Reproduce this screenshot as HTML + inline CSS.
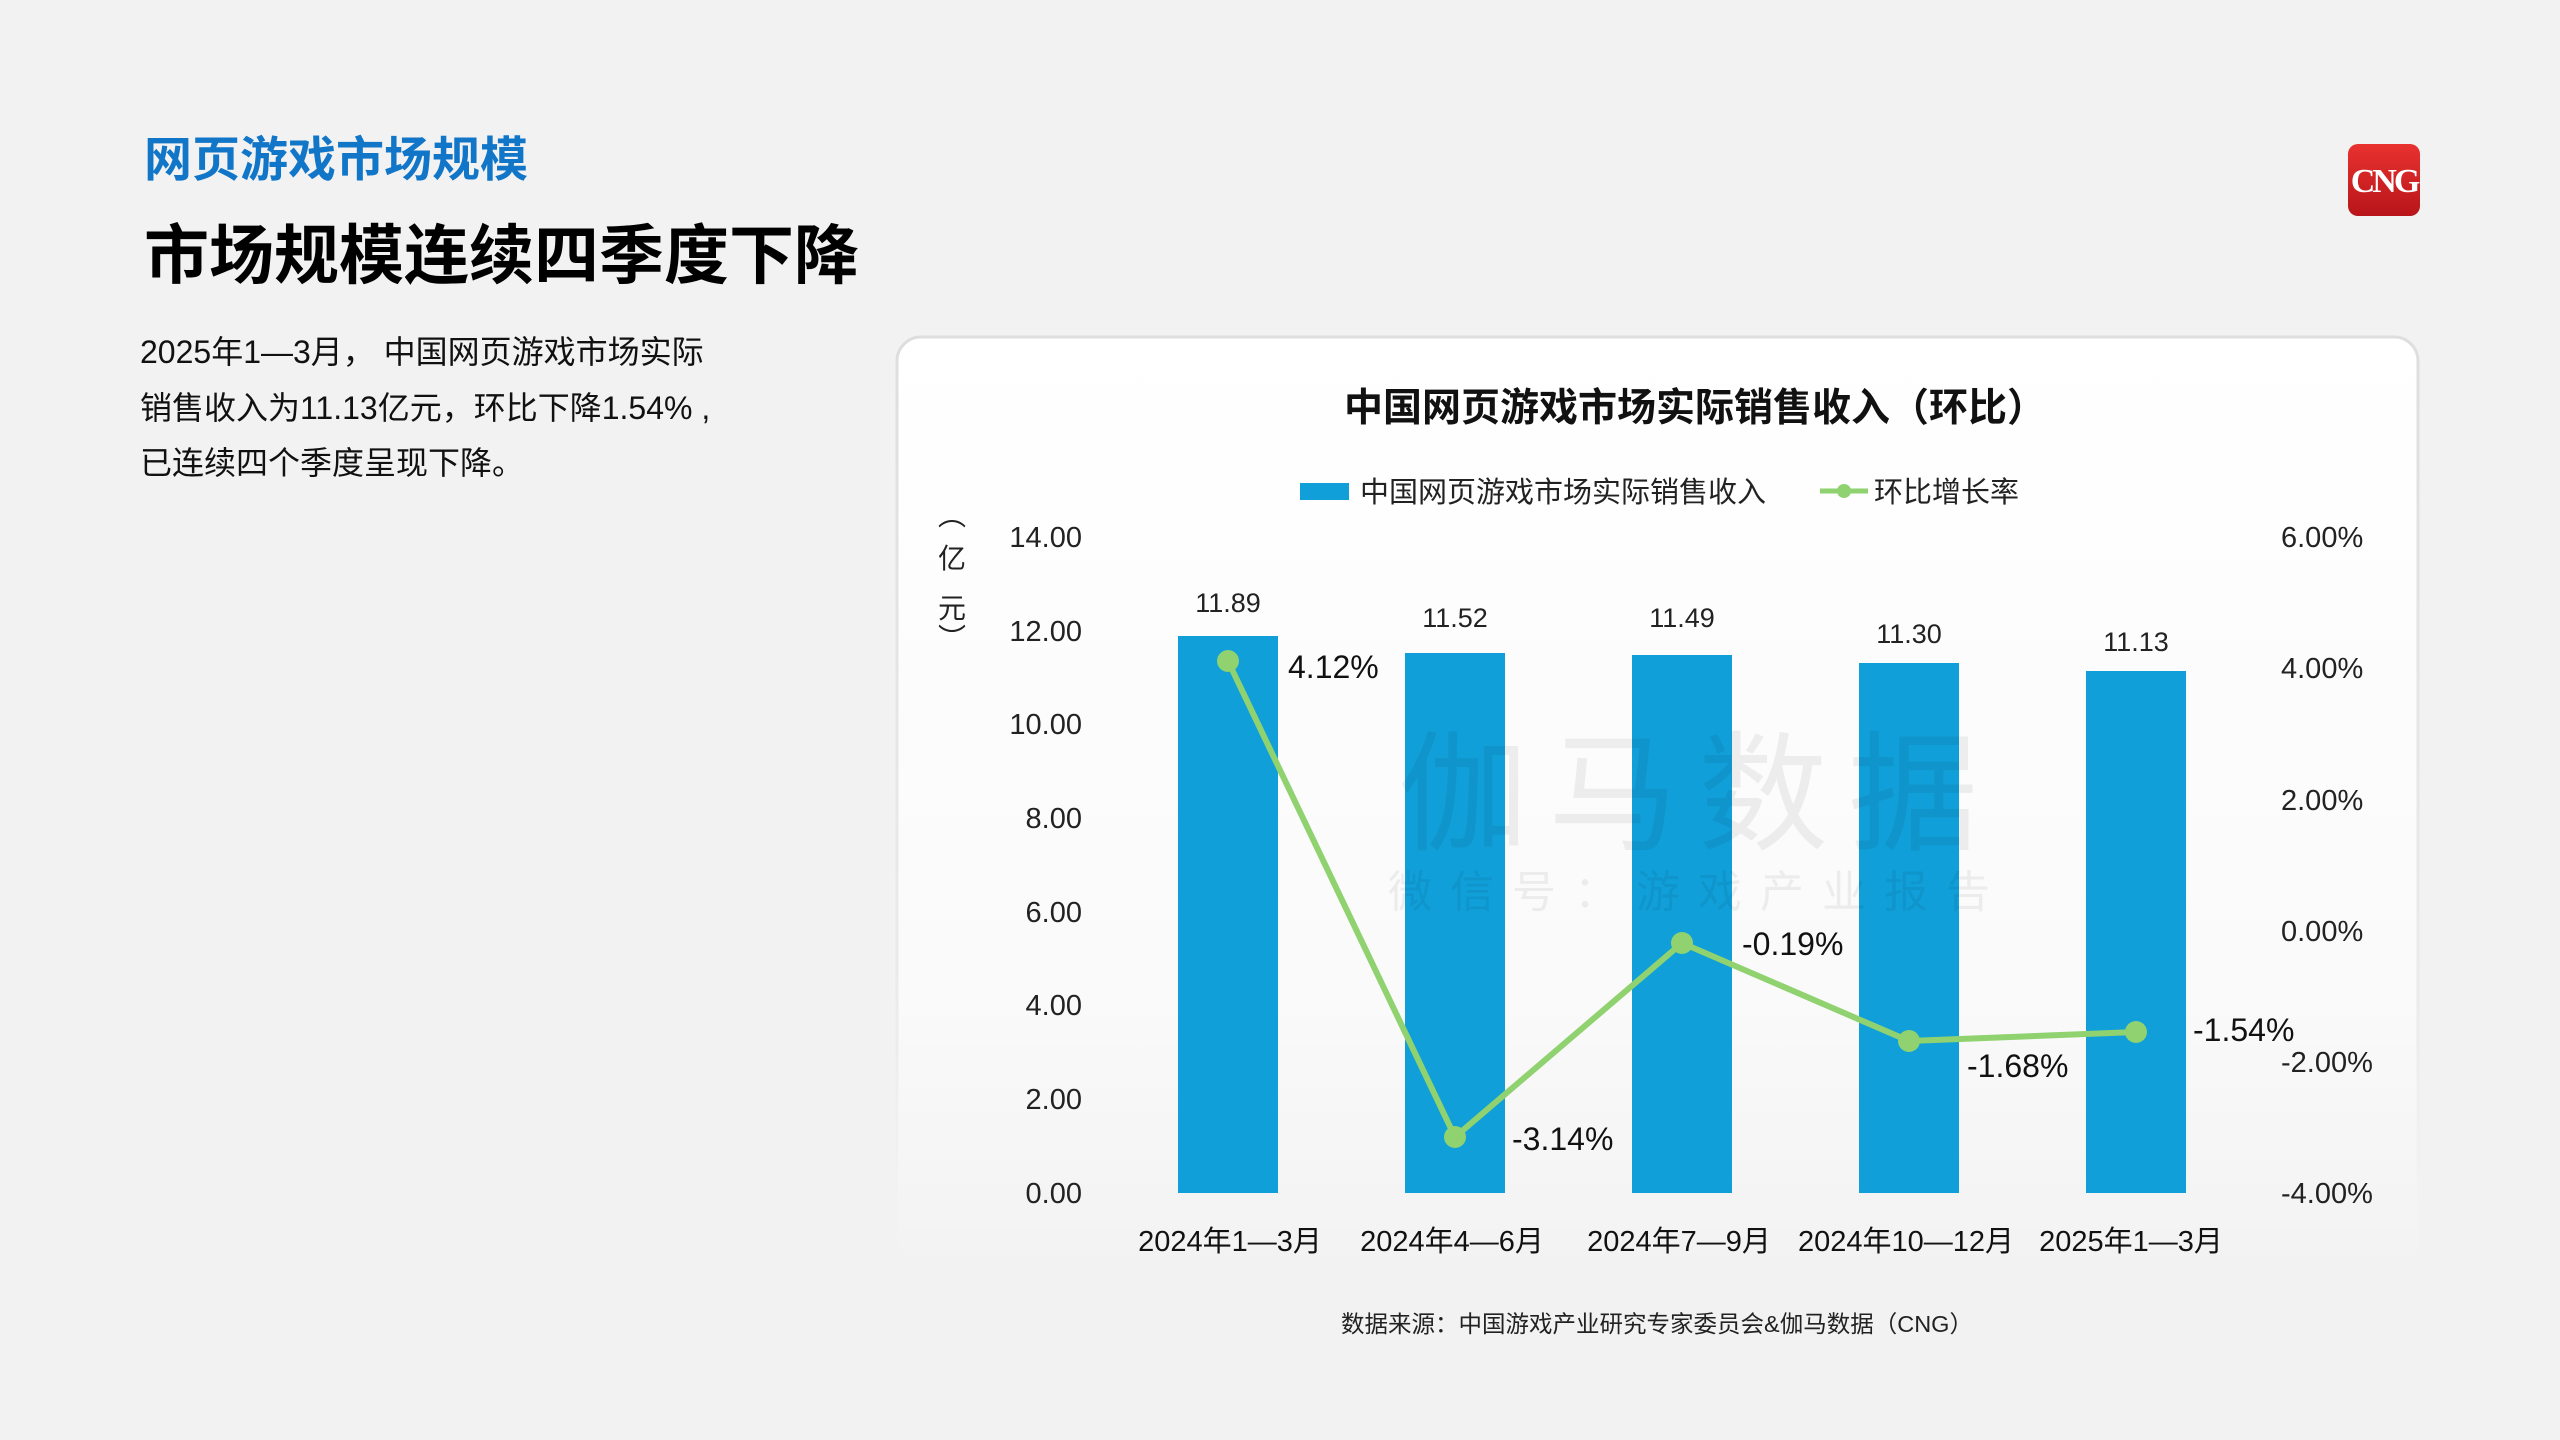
<!DOCTYPE html>
<html><head><meta charset="utf-8"><style>
html,body{margin:0;padding:0;width:2560px;height:1440px;background:#f2f2f2;overflow:hidden}
body{font-family:"Liberation Sans","Noto Sans CJK SC",sans-serif}
</style></head><body>
<svg width="2560" height="1440" viewBox="0 0 2560 1440" xmlns="http://www.w3.org/2000/svg" style="position:absolute;left:0;top:0">
<defs>
<linearGradient id="cg" x1="0" y1="0" x2="0" y2="1">
<stop offset="0" stop-color="#ffffff"/><stop offset="0.7" stop-color="#fafafa"/><stop offset="1" stop-color="#f2f2f2"/>
</linearGradient>
<linearGradient id="sg" x1="0" y1="0" x2="0" y2="1">
<stop offset="0" stop-color="#dedede"/><stop offset="0.75" stop-color="#ececec"/><stop offset="1" stop-color="#f2f2f2" stop-opacity="0"/>
</linearGradient>
<linearGradient id="lg" x1="0" y1="0" x2="0" y2="1">
<stop offset="0" stop-color="#e8322f"/><stop offset="1" stop-color="#b8151a"/>
</linearGradient>
</defs>
<rect x="0" y="0" width="2560" height="1440" fill="#f2f2f2"/>
<g font-family="Liberation Sans, Noto Sans CJK SC, sans-serif">
<text x="144" y="176" font-size="48" font-weight="bold" fill="#1176c8">网页游戏市场规模</text>
<text x="144" y="278" font-size="65" font-weight="bold" fill="#000">市场规模连续四季度下降</text>
<text font-size="32" fill="#111">
<tspan x="140" y="363">2025年1—3月， 中国网页游戏市场实际</tspan>
<tspan x="140" y="419">销售收入为11.13亿元，环比下降1.54% ,</tspan>
<tspan x="140" y="474">已连续四个季度呈现下降。</tspan>
</text>
<rect x="2348" y="144" width="72" height="72" rx="10" fill="url(#lg)"/>
<text x="2384" y="192" font-size="34" font-weight="bold" fill="#fff" text-anchor="middle" font-family="Liberation Serif, serif" letter-spacing="-3">CNG</text>

<rect x="897" y="337" width="1521" height="940" rx="24" fill="url(#cg)" stroke="url(#sg)" stroke-width="3"/>
<text x="1695" y="421" font-size="39" font-weight="bold" fill="#111" text-anchor="middle">中国网页游戏市场实际销售收入（环比）</text>
<rect x="1300" y="483" width="49" height="17" fill="#109fd8"/>
<text x="1360" y="502" font-size="29" fill="#222">中国网页游戏市场实际销售收入</text>
<line x1="1820" y1="491" x2="1868" y2="491" stroke="#8fd26f" stroke-width="5"/>
<circle cx="1844" cy="491" r="7" fill="#8fd26f"/>
<text x="1874" y="502" font-size="29" fill="#222">环比增长率</text>

<g font-size="28" fill="#222" text-anchor="middle">
<text x="952" y="525">︵</text><text x="952" y="568">亿</text><text x="952" y="618">元</text><text x="952" y="648">︶</text>
</g>
<g font-size="29" fill="#222" text-anchor="end">
<text x="1082" y="547">14.00</text><text x="1082" y="641">12.00</text><text x="1082" y="734">10.00</text>
<text x="1082" y="828">8.00</text><text x="1082" y="922">6.00</text><text x="1082" y="1015">4.00</text>
<text x="1082" y="1109">2.00</text><text x="1082" y="1203">0.00</text>
</g>
<g font-size="29" fill="#222">
<text x="2281" y="547">6.00%</text><text x="2281" y="678">4.00%</text><text x="2281" y="810">2.00%</text>
<text x="2281" y="941">0.00%</text><text x="2281" y="1072">-2.00%</text><text x="2281" y="1203">-4.00%</text>
</g>

<g fill="#109fd8">
<rect x="1178" y="636" width="100" height="557"/>
<rect x="1405" y="653" width="100" height="540"/>
<rect x="1632" y="655" width="100" height="538"/>
<rect x="1859" y="663" width="100" height="530"/>
<rect x="2086" y="671" width="100" height="522"/>
</g>
<text x="1698" y="840" font-size="130" fill="#000" fill-opacity="0.06" text-anchor="middle" letter-spacing="20">伽马数据</text>
<text x="1698" y="907" font-size="44" fill="#000" fill-opacity="0.06" text-anchor="middle" letter-spacing="18">微信号：游戏产业报告</text>
<g font-size="27" fill="#222" text-anchor="middle">
<text x="1228" y="612">11.89</text><text x="1455" y="627">11.52</text><text x="1682" y="627">11.49</text>
<text x="1909" y="643">11.30</text><text x="2136" y="651">11.13</text>
</g>
<polyline points="1228,661 1455,1137 1682,943 1909,1041 2136,1032" fill="none" stroke="#8fd26f" stroke-width="6" stroke-linejoin="round"/>
<g fill="#8fd26f">
<circle cx="1228" cy="661" r="11"/><circle cx="1455" cy="1137" r="11"/><circle cx="1682" cy="943" r="11"/>
<circle cx="1909" cy="1041" r="11"/><circle cx="2136" cy="1032" r="11"/>
</g>
<g font-size="32" fill="#111">
<text x="1288" y="678">4.12%</text><text x="1512" y="1150">-3.14%</text><text x="1742" y="955">-0.19%</text>
<text x="1967" y="1077">-1.68%</text><text x="2193" y="1041">-1.54%</text>
</g>
<g font-size="29" fill="#111" text-anchor="middle">
<text x="1230" y="1251">2024年1—3月</text><text x="1452" y="1251">2024年4—6月</text><text x="1679" y="1251">2024年7—9月</text>
<text x="1906" y="1251">2024年10—12月</text><text x="2131" y="1251">2025年1—3月</text>
</g>
<text x="1657" y="1332" font-size="23.5" fill="#222" text-anchor="middle">数据来源：中国游戏产业研究专家委员会&amp;伽马数据（CNG）</text>
</g>
</svg>
</body></html>
